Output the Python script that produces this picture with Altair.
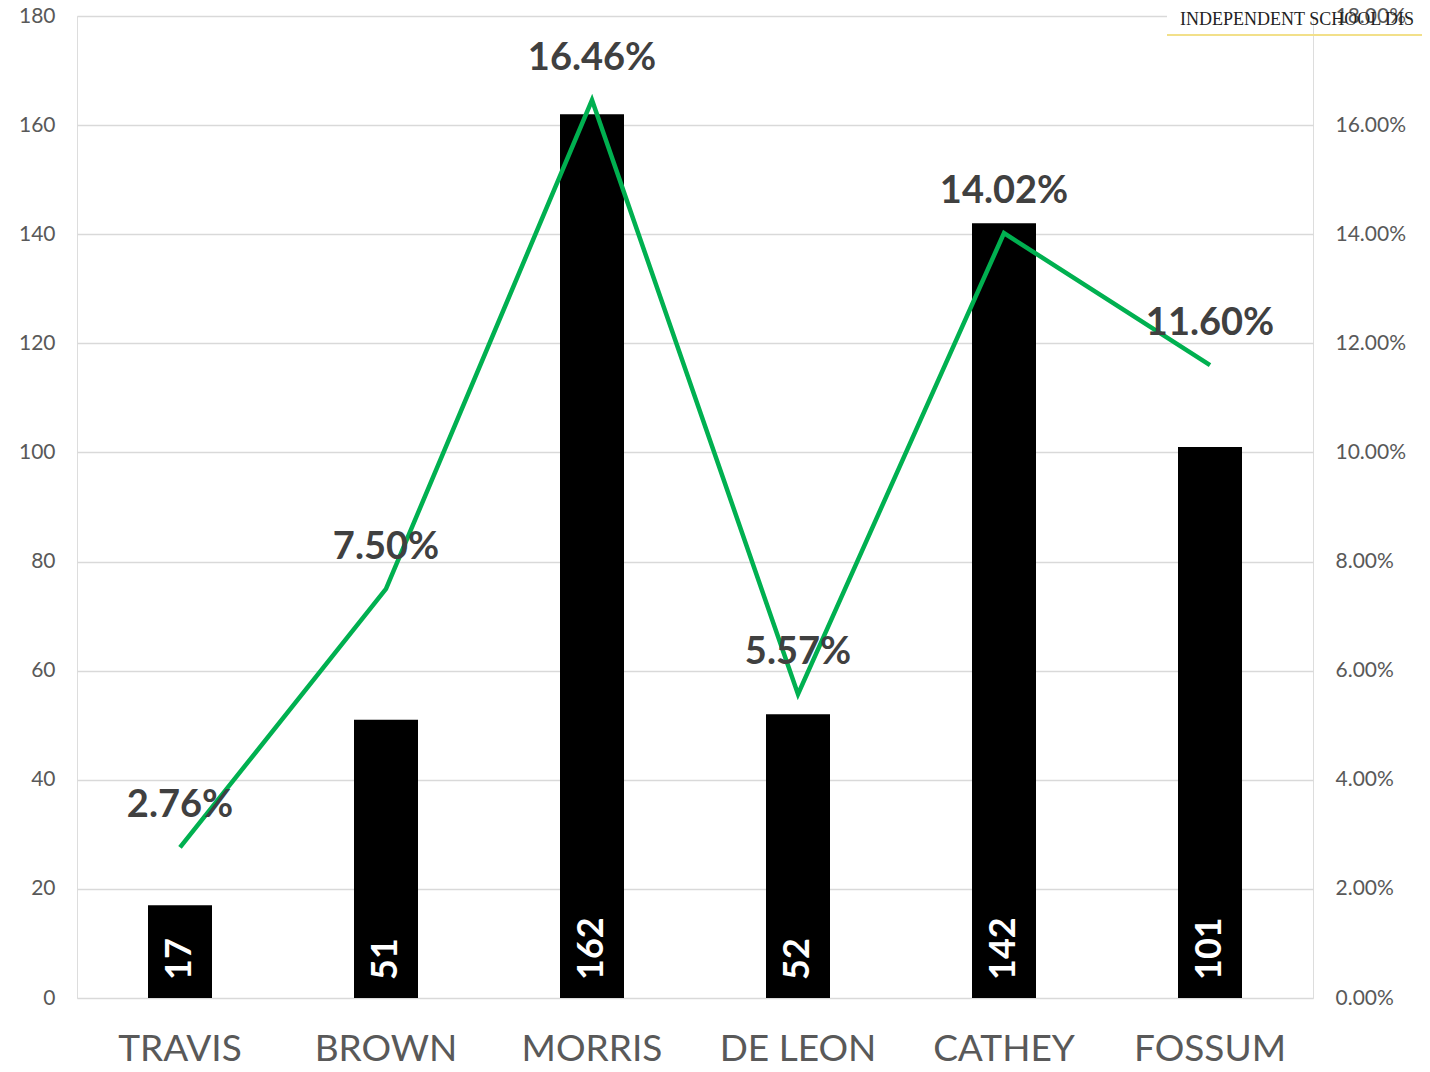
import altair as alt
import pandas as pd

categories = ["TRAVIS", "BROWN", "MORRIS", "DE LEON", "CATHEY", "FOSSUM"]
counts = [17, 51, 162, 52, 142, 101]
pcts = [0.0276, 0.0750, 0.1646, 0.0557, 0.1402, 0.1160]
pct_labels = ["2.76%", "7.50%", "16.46%", "5.57%", "14.02%", "11.60%"]
logo_text = ["INDEPENDENT SCHOOL DIS"]

df = pd.DataFrame({"cat": categories, "count": counts, "pct": pcts,
                   "pct_label": pct_labels, "zero": [0] * len(categories)})

FONT = "Lato"
AXIS_COLOR = "#595959"

x_axis = alt.Axis(
    labelAngle=0, labelFontSize=37, labelColor=AXIS_COLOR, labelFont=FONT,
    labelPadding=33, ticks=False, tickSize=0, domain=False, grid=False,
)
x = alt.X("cat:N", sort=categories, title=None,
          scale=alt.Scale(paddingInner=0, paddingOuter=0), axis=x_axis)

left_axis = alt.Axis(
    values=list(range(0, 181, 20)), labelFontSize=21, labelColor=AXIS_COLOR,
    labelFont=FONT, labelPadding=22, ticks=False, tickSize=0, domain=False,
    grid=True, gridColor="#d9d9d9", gridWidth=1.5,
)
left_scale = alt.Scale(domain=[0, 180], nice=False)

right_axis = alt.Axis(
    orient="right", values=[i / 100 for i in range(0, 19, 2)], format=".2%",
    labelFontSize=21, labelColor=AXIS_COLOR, labelFont=FONT, labelPadding=22,
    ticks=False, tickSize=0, domain=False, grid=False,
)
right_scale = alt.Scale(domain=[0, 0.18], nice=False)

base = alt.Chart(df)

bars = base.mark_bar(size=64, color="#000000").encode(
    x=x, y=alt.Y("count:Q", title=None, scale=left_scale, axis=left_axis)
)
bar_text = base.mark_text(
    angle=270, align="left", baseline="middle", dx=18,
    color="white", font=FONT, fontWeight="bold", fontSize=36,
).encode(
    x=x,
    y=alt.Y("zero:Q", title=None, scale=left_scale, axis=left_axis),
    text="count:Q",
)

left_layer = alt.layer(bars, bar_text)

line = base.mark_line(color="#00B050", strokeWidth=4.5).encode(
    x=x, y=alt.Y("pct:Q", title=None, scale=right_scale, axis=right_axis)
)
pct_text = base.mark_text(
    align="center", baseline="middle", dy=-41,
    color="#404040", font=FONT, fontWeight="bold", fontSize=38,
).encode(
    x=x,
    y=alt.Y("pct:Q", title=None, scale=right_scale, axis=right_axis),
    text="pct_label:N",
)

right_layer = alt.layer(line, pct_text)

logo_df = pd.DataFrame({"t": logo_text})
logo_bg = alt.Chart(logo_df).mark_rect(color="white").encode(
    x=alt.value(1090), x2=alt.value(1236), y=alt.value(-4), y2=alt.value(4)
)
logo_line = alt.Chart(logo_df).mark_rule(color="#f2e08a", strokeWidth=2).encode(
    x=alt.value(1090), x2=alt.value(1360), y=alt.value(19)
)
logo = alt.Chart(logo_df).mark_text(
    align="left", baseline="middle", font="Liberation Serif", fontSize=18, color="#222222"
).encode(x=alt.value(1103), y=alt.value(4), text="t:N")

chart = alt.layer(left_layer, right_layer).resolve_scale(y="independent")
chart = (
    alt.layer(chart, logo_bg, logo_line, logo)
    .properties(
        width=1236,
        height=982,
        autosize=alt.AutoSizeParams(type="none"),
        padding={"left": 69, "top": 8, "right": 109, "bottom": 64},
    )
    .configure_view(strokeWidth=0, stroke="transparent")
    .configure_axis(domain=False, ticks=False)
    .configure_axisX(grid=False)
    .configure(background="white")
)

chart.save("out.html", embed_options={"renderer": "svg", "actions": False})
